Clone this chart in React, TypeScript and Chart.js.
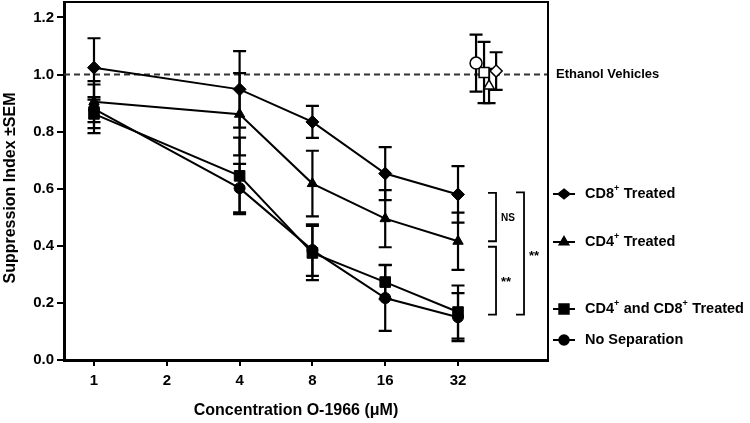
import React, { useEffect, useRef } from "react";
import { Chart, registerables } from "chart.js";
Chart.register(...registerables);

const FONT = '"Liberation Sans", Arial, Helvetica, sans-serif';

// ---- data ----
const concentrations = [1, 4, 8, 16, 32];
const xTickValues = [1, 2, 4, 8, 16, 32];
const xTickLabels = ["1", "2", "4", "8", "16", "32"];
const yTickValues = [0, 0.2, 0.4, 0.6, 0.8, 1.0, 1.2];

const cd8Treated = [1.024, 0.948, 0.834, 0.653, 0.58];
const cd8Sem = [0.103, 0.134, 0.056, 0.093, 0.099];
const cd4Treated = [0.905, 0.861, 0.618, 0.495, 0.416];
const cd4Sem = [0.072, 0.144, 0.115, 0.1, 0.1];
const bothTreated = [0.862, 0.645, 0.375, 0.273, 0.168];
const bothSem = [0.05, 0.134, 0.095, 0.06, 0.093];
const noSeparation = [0.88, 0.602, 0.385, 0.217, 0.15];
const noSepSem = [0.085, 0.085, 0.09, 0.115, 0.084];

const vehicleX = [38, 41, 43, 46];
const vehicleValues = [1.04, 1.007, 0.96, 1.012];
const vehicleSem = [0.1, 0.107, 0.06, 0.066];
const vehicleStyles = ["circle", "rect", "triangle", "rectRot"];
const vehicleBaseline = 1.0;

type Series = { label: string; sup: string[]; values: number[]; sem: number[]; style: string; radius: number };
const series: Series[] = [
  { label: "CD8+ Treated", sup: ["CD8", "+", " Treated"], values: cd8Treated, sem: cd8Sem, style: "rectRot", radius: 6.5 },
  { label: "CD4+ Treated", sup: ["CD4", "+", " Treated"], values: cd4Treated, sem: cd4Sem, style: "triangle", radius: 6 },
  { label: "CD4+ and CD8+ Treated", sup: ["CD4", "+", " and CD8", "+", " Treated"], values: bothTreated, sem: bothSem, style: "rect", radius: 7.5 },
  { label: "No Separation", sup: ["No Separation"], values: noSeparation, sem: noSepSem, style: "circle", radius: 5.5 },
];

const legendRowsY = [194, 242, 309, 340];

function drawMarker(ctx: CanvasRenderingContext2D, style: string, x: number, y: number, r: number, fill: string) {
  ctx.save();
  ctx.fillStyle = fill;
  ctx.strokeStyle = "#000";
  ctx.lineWidth = 1.5;
  ctx.beginPath();
  if (style === "circle") {
    ctx.arc(x, y, r, 0, Math.PI * 2);
  } else if (style === "rect") {
    const s = r * Math.SQRT1_2;
    ctx.rect(x - s, y - s, 2 * s, 2 * s);
  } else if (style === "triangle") {
    ctx.moveTo(x, y - r);
    ctx.lineTo(x + r * 0.866, y + r * 0.5);
    ctx.lineTo(x - r * 0.866, y + r * 0.5);
    ctx.closePath();
  } else {
    ctx.moveTo(x, y - r * 0.8);
    ctx.lineTo(x + r, y);
    ctx.lineTo(x, y + r * 0.8);
    ctx.lineTo(x - r, y);
    ctx.closePath();
  }
  ctx.fill();
  ctx.stroke();
  ctx.restore();
}

function drawErr(ctx: CanvasRenderingContext2D, px: number, yScale: any, v: number, sem: number) {
  const top = yScale.getPixelForValue(v + sem);
  const bot = yScale.getPixelForValue(v - sem);
  ctx.beginPath();
  ctx.moveTo(px, top);
  ctx.lineTo(px, bot);
  ctx.moveTo(px - 6.5, top);
  ctx.lineTo(px + 6.5, top);
  ctx.moveTo(px - 6.5, bot);
  ctx.lineTo(px + 6.5, bot);
  ctx.stroke();
}

function drawParts(ctx: CanvasRenderingContext2D, parts: string[], x: number, y: number, size: number) {
  let cx = x;
  parts.forEach((p) => {
    const isSup = p === "+";
    ctx.font = `bold ${isSup ? size * 0.62 : size}px ${FONT}`;
    ctx.fillText(p, cx, isSup ? y - size * 0.38 : y);
    cx += ctx.measureText(p).width + (isSup ? 0.5 : 0);
  });
}

const overlay = {
  id: "overlay",
  beforeDatasetsDraw(chart: any) {
    const { ctx, chartArea, scales } = chart;
    const x = scales.x;
    const y = scales.y;
    ctx.save();
    ctx.strokeStyle = "#333";
    ctx.lineWidth = 2;
    ctx.setLineDash([6, 4]);
    const by = y.getPixelForValue(vehicleBaseline);
    ctx.beginPath();
    ctx.moveTo(chartArea.left, by);
    ctx.lineTo(chartArea.right, by);
    ctx.stroke();
    ctx.setLineDash([]);
    ctx.strokeStyle = "#000";
    ctx.lineWidth = 2.2;
    series.forEach((s) => {
      s.values.forEach((v, i) => drawErr(ctx, x.getPixelForValue(Math.log2(concentrations[i])), y, v, s.sem[i]));
    });
    vehicleValues.forEach((v, i) => drawErr(ctx, x.getPixelForValue(Math.log2(vehicleX[i])), y, v, vehicleSem[i]));
    ctx.restore();
  },
  afterDraw(chart: any) {
    const { ctx, chartArea, scales } = chart;
    const x = scales.x;
    const y = scales.y;
    ctx.save();
    ctx.strokeStyle = "#000";
    ctx.lineWidth = 2;
    ctx.beginPath();
    ctx.moveTo(chartArea.left, chartArea.top);
    ctx.lineTo(chartArea.right, chartArea.top);
    ctx.lineTo(chartArea.right, chartArea.bottom);
    ctx.stroke();

    const last = concentrations.length - 1;
    const px32 = x.getPixelForValue(Math.log2(concentrations[last]));
    const yCd8 = y.getPixelForValue(cd8Treated[last]);
    const yCd4 = y.getPixelForValue(cd4Treated[last]);
    const yBoth = y.getPixelForValue(bothTreated[last]);
    const bracket = (bx: number, top: number, bot: number, arm: number) => {
      ctx.beginPath();
      ctx.moveTo(bx - arm, top);
      ctx.lineTo(bx, top);
      ctx.lineTo(bx, bot);
      ctx.lineTo(bx - arm, bot);
      ctx.stroke();
    };
    ctx.lineWidth = 1.8;
    bracket(px32 + 38, yCd8 - 1.5, yCd4, 8);
    bracket(px32 + 38, yCd4 + 5.5, yBoth + 2.5, 8);
    bracket(px32 + 66, yCd8 - 2, yBoth + 2.5, 8);
    ctx.fillStyle = "#000";
    ctx.textAlign = "left";
    ctx.textBaseline = "middle";
    ctx.font = `bold 10px ${FONT}`;
    ctx.fillText("NS", px32 + 43, (yCd8 + yCd4) / 2);
    ctx.font = `bold 13px ${FONT}`;
    ctx.fillText("**", px32 + 43, (yCd4 + yBoth) / 2 + 6);
    ctx.fillText("**", px32 + 71, (yCd8 + yBoth) / 2 + 3);

    ctx.font = `bold 13px ${FONT}`;
    ctx.fillText("Ethanol Vehicles", chartArea.right + 8, y.getPixelForValue(vehicleBaseline));

    series.forEach((s, i) => {
      const ly = legendRowsY[i];
      ctx.strokeStyle = "#000";
      ctx.lineWidth = 2;
      ctx.beginPath();
      ctx.moveTo(553, ly);
      ctx.lineTo(575, ly);
      ctx.stroke();
      drawMarker(ctx, s.style, 564, ly, s.radius - 0.5, "#000");
      ctx.fillStyle = "#000";
      drawParts(ctx, s.sup, 585, ly, 14.5);
    });

    ctx.textAlign = "center";
    ctx.font = `bold 16px ${FONT}`;
    ctx.fillText("Concentration O-1966 (\u03bcM)", 296, 411);
    ctx.save();
    ctx.translate(11, 188);
    ctx.rotate(-Math.PI / 2);
    ctx.fillText("Suppression Index \u00b1SEM", 0, 0);
    ctx.restore();
    ctx.restore();
  },
};

export default function App() {
  const ref = useRef<HTMLCanvasElement>(null);
  useEffect(() => {
    if (!ref.current) return;
    const datasets: any[] = series.map((s) => ({
      label: s.label,
      data: s.values.map((v, i) => ({ x: Math.log2(concentrations[i]), y: v })),
      borderColor: "#000",
      borderWidth: 2,
      pointStyle: s.style,
      pointRadius: s.radius,
      pointBackgroundColor: "#000",
      pointBorderColor: "#000",
      pointBorderWidth: 1,
      tension: 0,
      fill: false,
    }));
    vehicleValues.forEach((v, i) => {
      datasets.push({
        label: "Ethanol Vehicle " + i,
        data: [{ x: Math.log2(vehicleX[i]), y: v }],
        showLine: false,
        pointStyle: vehicleStyles[i],
        pointRadius: vehicleStyles[i] === "rect" ? 7 : 6,
        pointBackgroundColor: "#fff",
        pointBorderColor: "#000",
        pointBorderWidth: 1.5,
      });
    });
    const chart = new Chart(ref.current, {
      type: "line",
      data: { datasets },
      options: {
        animation: false,
        responsive: false,
        layout: { autoPadding: false, padding: { left: 0, right: 202, top: 2, bottom: 0 } },
        plugins: { legend: { display: false }, tooltip: { enabled: false } },
        scales: {
          x: {
            type: "linear",
            min: -0.412,
            max: 6.236,
            afterBuildTicks: (s: any) => {
              s.ticks = xTickValues.map((v) => ({ value: Math.log2(v) }));
            },
            afterFit: (s: any) => {
              s.height = 63;
              s.paddingLeft = 0;
              s.paddingRight = 0;
            },
            ticks: {
              callback: (_v: any, i: number) => xTickLabels[i],
              font: { family: FONT, size: 15, weight: "bold" },
              color: "#000",
              padding: 6,
              maxRotation: 0,
              autoSkip: false,
            },
            grid: { drawOnChartArea: false, drawTicks: true, tickLength: 6, color: "#000", lineWidth: 2 },
            border: { color: "#000", width: 3 },
          },
          y: {
            type: "linear",
            min: 0,
            max: 1.254,
            afterBuildTicks: (s: any) => {
              s.ticks = yTickValues.map((v) => ({ value: v }));
            },
            afterFit: (s: any) => {
              s.width = 64;
              s.paddingTop = 0;
              s.paddingBottom = 0;
            },
            ticks: {
              callback: (v: any) => Number(v).toFixed(1),
              font: { family: FONT, size: 15, weight: "bold" },
              color: "#000",
              padding: 3,
            },
            grid: { drawOnChartArea: false, drawTicks: true, tickLength: 7, color: "#000", lineWidth: 2 },
            border: { color: "#000", width: 3 },
          },
        },
      },
      plugins: [overlay],
    });
    return () => chart.destroy();
  }, []);
  return (
    <div style={{ position: "fixed", left: 0, top: 0, width: 750, height: 423, background: "#fff" }}>
      <canvas ref={ref} width={750} height={423} />
    </div>
  );
}
